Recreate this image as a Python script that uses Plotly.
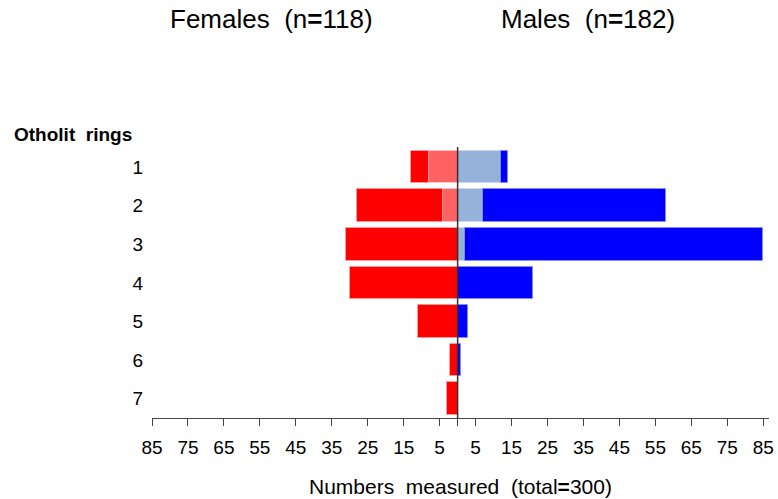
import plotly.graph_objects as go

rings = [1, 2, 3, 4, 5, 6, 7]
female_light = [8, 4, 0, 0, 0, 0, 0]
female_dark = [5, 24, 31, 30, 11, 2, 3]
male_light = [12, 7, 2, 0, 0, 0, 0]
male_dark = [2, 51, 83, 21, 3, 1, 0]

tick_vals = [-85, -75, -65, -55, -45, -35, -25, -15, -5, 0, 5, 15, 25, 35, 45, 55, 65, 75, 85]
tick_text = ["85", "75", "65", "55", "45", "35", "25", "15", "5", "", "5", "15", "25", "35", "45", "55", "65", "75", "85"]

FONT = "Liberation Sans, Arial, Helvetica, sans-serif"
W, H = 778, 499
ML, MR, MT, MB = 152, 9, 147, 81

fig = go.Figure()
fig.add_trace(go.Bar(y=rings, x=[-v for v in female_light], orientation="h", width=0.84,
                     marker=dict(color="#FF6262", line=dict(color="rgba(255,200,200,0.8)", width=1)),
                     name="Females light", hoverinfo="skip"))
fig.add_trace(go.Bar(y=rings, x=[-v for v in female_dark], orientation="h", width=0.84,
                     marker=dict(color="#FF0000", line=dict(color="rgba(255,160,160,0.8)", width=1)),
                     name="Females", hoverinfo="skip"))
fig.add_trace(go.Bar(y=rings, x=male_light, orientation="h", width=0.84,
                     marker=dict(color="#94B2DA", line=dict(color="rgba(200,215,240,0.8)", width=1)),
                     name="Males light", hoverinfo="skip"))
fig.add_trace(go.Bar(y=rings, x=male_dark, orientation="h", width=0.84,
                     marker=dict(color="#0000FF", line=dict(color="rgba(140,140,255,0.8)", width=1)),
                     name="Males", hoverinfo="skip"))

fig.add_shape(type="line", xref="x", yref="paper", x0=0, x1=0, y0=0, y1=1,
              line=dict(color="#333333", width=1.5))


def px2paper(px, py):
    pw = W - ML - MR
    ph = H - MT - MB
    return (px - ML) / pw, 1 - (py - MT) / ph


annots = [
    ("Females  (n<b>=</b>118)", 271, 19, 26, "center", False),
    ("Males  (n<b>=</b>182)", 588, 19, 26, "center", False),
    ("<b>Otholit  rings</b>", 12, 134, 19, "left", False),
    ("Numbers  measured  (total<b>=</b>300)", 460, 486, 21, "center", False),
]
ann_list = []
for text, px, py, size, xa, _ in annots:
    ax, ay = px2paper(px, py)
    ann_list.append(dict(text=text, x=ax, y=ay, xref="paper", yref="paper", showarrow=False,
                         xanchor=xa, yanchor="middle", font=dict(size=size, family=FONT, color="black")))

fig.update_layout(
    width=W, height=H,
    margin=dict(l=ML, r=MR, t=MT, b=MB),
    barmode="relative",
    bargap=0,
    showlegend=False,
    plot_bgcolor="white", paper_bgcolor="white",
    font=dict(family=FONT, color="black"),
    xaxis=dict(range=[-85, 86.6], tickvals=tick_vals, ticktext=tick_text,
               ticks="outside", ticklen=7, tickcolor="#444444", tickwidth=1,
               showline=True, linecolor="#444444", linewidth=1,
               showgrid=False, zeroline=False, automargin=False,
               tickfont=dict(size=19, family=FONT), ticklabelstandoff=5),
    yaxis=dict(range=[7.5, 0.48], tickvals=rings, ticktext=[str(r) for r in rings],
               ticks="", showline=False, showgrid=False, zeroline=False, automargin=False,
               tickfont=dict(size=19, family=FONT), ticklabelstandoff=8),
    annotations=ann_list,
)

fig.write_html("out.html")
